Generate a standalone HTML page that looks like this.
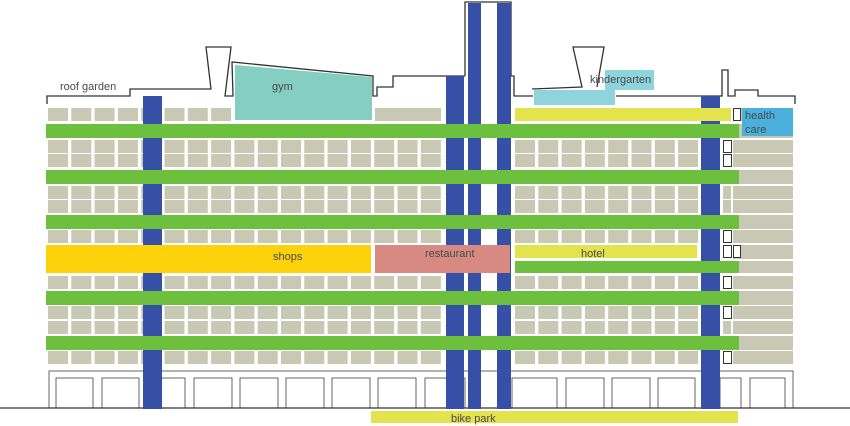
<!DOCTYPE html>
<html><head><meta charset="utf-8"><style>
html,body{margin:0;padding:0;background:#fff;width:850px;height:426px;overflow:hidden}
svg{display:block}
text{font-family:"Liberation Sans","DejaVu Sans",sans-serif;font-size:11px;fill:#4a4a4a}
</style></head><body>
<svg id="s" width="850" height="426" viewBox="0 0 850 426" xmlns="http://www.w3.org/2000/svg">
<g id="win" fill="#c8c8b4"></g>
<!-- roof outline -->
<path d="M47,104 L47,96 L130,96 L130,89 L211,89 L206,47 L231,47 L225,96 L233,96 L232,62 L373,76 L373,96 L377,96 L377,87 L393,87 L393,76 L465,76 M465,76 L465,2 L511,2 L511,76 L514,76 L514,96 L533,96 M532,89 L582,87 L573,47 L604,47 L597,87 M616,96 L722,96 L722,70 L728,70 L728,96 L735,96 L735,90 L758,90 L758,96 L795,96 L795,104" fill="none" stroke="#333" stroke-width="1.3"/>
<!-- gym -->
<polygon points="235,65 372,77 372,120 235,120" fill="#85cfc2"/>
<!-- kindergarten -->
<rect x="534" y="90" width="81" height="15" fill="#8fd3dc"/>
<rect x="605" y="70" width="49" height="20" fill="#8fd3dc"/>
<!-- ground floor -->
<rect x="49" y="371" width="744" height="37" fill="none" stroke="#666" stroke-width="1"/>
<g fill="none" stroke="#666" stroke-width="1">
<rect x="56" y="378" width="37" height="30"/><rect x="102" y="378" width="37" height="30"/>
<rect x="148" y="378" width="37" height="30"/><rect x="194" y="378" width="38" height="30"/>
<rect x="240" y="378" width="38" height="30"/><rect x="286" y="378" width="38" height="30"/>
<rect x="332" y="378" width="38" height="30"/><rect x="378" y="378" width="38" height="30"/>
<rect x="425" y="378" width="40" height="30"/>
<rect x="512" y="378" width="45" height="30"/><rect x="566" y="378" width="38" height="30"/>
<rect x="612" y="378" width="38" height="30"/><rect x="658" y="378" width="37" height="30"/>
<rect x="720" y="378" width="21" height="30"/><rect x="750" y="378" width="35" height="30"/>
</g>
<line x1="0" y1="408" x2="850" y2="408" stroke="#333" stroke-width="1.3"/>
<!-- blue columns -->
<g fill="#3650a8">
<rect x="143" y="96" width="19" height="313"/>
<rect x="446" y="76" width="18" height="333"/>
<rect x="468" y="3" width="13" height="406"/>
<rect x="497" y="3" width="14" height="406"/>
<rect x="701" y="96" width="19" height="313"/>
</g>
<!-- top yellow, health care -->
<rect x="515" y="108" width="216" height="13" fill="#e3e34d"/>
<rect x="742" y="108" width="51" height="28" fill="#4bb0dc"/>
<!-- green bands -->
<g fill="#6cc03e">
<rect x="46" y="124" width="693" height="14"/><rect x="46" y="170" width="693" height="14"/>
<rect x="46" y="215" width="693" height="14"/><rect x="46" y="291" width="693" height="14"/>
<rect x="46" y="336" width="693" height="14"/><rect x="515" y="261" width="224" height="12"/>
</g>
<!-- shops / restaurant / hotel -->
<rect x="46" y="245" width="325" height="28" fill="#fdd20a"/>
<rect x="375" y="245" width="135" height="28" fill="#d88a82"/>
<rect x="515" y="245" width="182" height="13" fill="#e3e34d"/>
<!-- bike park -->
<rect x="371" y="411" width="367" height="12" fill="#e3e34d"/>
<text x="60" y="90">roof garden</text>
<text x="272" y="90">gym</text>
<text x="590" y="83">kindergarten</text>
<text x="745" y="119">health</text>
<text x="745" y="133">care</text>
<text x="273" y="260">shops</text>
<text x="425" y="257">restaurant</text>
<text x="581" y="257">hotel</text>
<text x="451" y="422">bike park</text>
</svg>
<script>
var g=document.getElementById('win'),ns='http://www.w3.org/2000/svg';
function r(x,y,w,h,f,st){var e=document.createElementNS(ns,'rect');e.setAttribute('x',x);e.setAttribute('y',y);e.setAttribute('width',w);e.setAttribute('height',h);if(f)e.setAttribute('fill',f);if(st){e.setAttribute('stroke',st);e.setAttribute('stroke-width','1');}g.appendChild(e);}
var rows=[108,140,154,186,200,230,276,306,321,351];
var boxes={140:1,154:1,230:1,276:1,306:1,351:1};
rows.forEach(function(y){
 for(var i=0;i<17;i++){var x=48+23.3*i;
  if(y==108&&x>230&&x<372)continue;
  if(y==108&&x>372)continue;
  r(x.toFixed(1),y,20,13);}
 if(y==108)r(375,y,66,13);
 for(var j=0;j<8;j++)r((515+23.3*j).toFixed(1),y,20,13);
 r(733,y,60,13);
 if(boxes[y])r(723.5,y+0.5,8,12,'#fff','#333');else r(723,y,8,13);
});
r(733,124,60,14);r(733,170,60,14);r(733,215,60,14);r(733,245,60,14);r(733,261,60,12);r(733,291,60,14);r(733,336,60,14);
r(723.5,245.5,8,12,'#fff','#333');r(733.5,245.5,7,12,'#fff','#333');
r(733.5,108.5,7,12,'#fff','#333');
</script>
</body></html>
